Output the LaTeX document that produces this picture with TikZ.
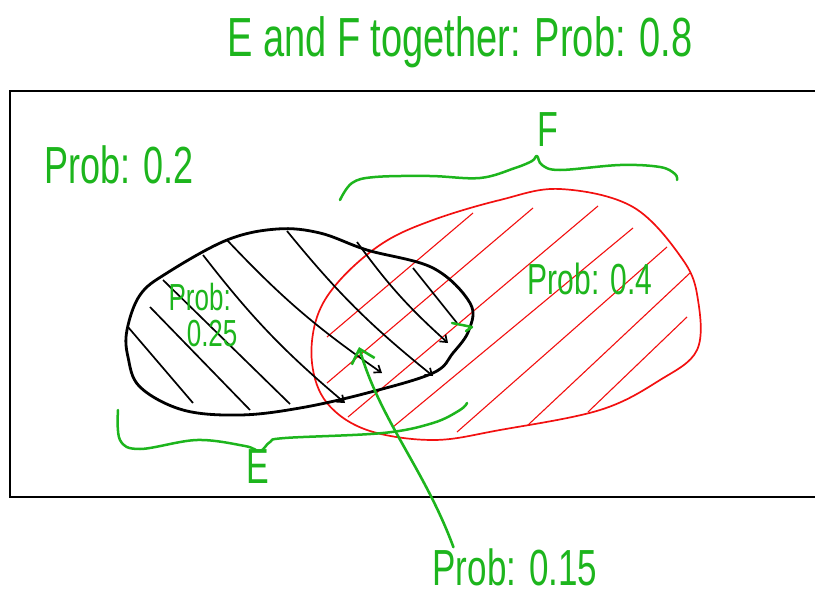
\documentclass[tikz,border=0pt]{standalone}
\usepackage{fontspec}
\setmainfont{Liberation Sans}
\usetikzlibrary{arrows.meta}
\definecolor{penGreen}{HTML}{1DB51D}
\definecolor{penRed}{HTML}{F21010}
\newcommand{\tallpen}[1]{\scalebox{1}[1.45]{#1}}
\tikzset{
  frameline/.style = {line width=2pt, black},
  setE/.style      = {line width=2.8pt, black},
  setF/.style      = {line width=1.7pt, penRed},
  hatchE/.style    = {line width=1.7pt, black},
  hatchEtip/.style = {hatchE, -{Straight Barb[length=6pt, width=9pt]}},
  hatchF/.style    = {line width=1.1pt, penRed},
  penbrace/.style  = {line width=2.5pt, penGreen, line cap=round, line join=round},
  pointer/.style   = {line width=2.6pt, penGreen, line cap=round,
                      -{Straight Barb[length=13pt, width=24pt]}},
  lbl/.style       = {penGreen, inner sep=1pt, font=\fontsize{#1}{#1}\selectfont},
  lbl/.default     = 32,
}

\begin{document}
\begin{tikzpicture}[x=1pt,y=-1pt]
  \useasboundingbox (0,0) rectangle (815,600);
  \draw[frameline] (815,91) -- (10,91) -- (10,497) -- (815,497);
  \foreach \xa/\ya/\xb/\yb in {327/337/473/213, 327/383/533/208, 348/417/598/206,
                               393/427/633/228, 457/432/667/247, 528/425/690/273,
                               588/412/687/317}
    \draw[hatchF] (\xa,\ya) -- (\xb,\yb);
  \draw[setF] plot[smooth cycle, tension=0.6] coordinates {(560,189) (633,207) (683,260)
    (698,300) (697,350) (660,380) (600,410) (500,430) (433,440) (367,430) (327,403)
    (312,363) (317,317) (340,280) (383,243) (433,220) (500,200)};
  \draw[setE] plot[smooth cycle, tension=0.6] coordinates {(127,330) (140,295) (167,273)
    (227,240) (277,229) (320,233) (367,250) (433,268) (470,303) (469,330) (453,353)
    (433,373) (367,393) (300,408) (240,415) (183,410) (140,387) (128,357)};
  \foreach \xa/\ya/\xb/\yb in {128/327/193/403, 150/307/250/410, 163/280/290/404,
                               413/268/457/323}
    \draw[hatchE] (\xa,\ya) -- (\xb,\yb);
  \foreach \xa/\ya/\xb/\yb in {203/255/345/403, 227/240/382/373, 287/231/433/376,
                               357/242/448/343}
    \draw[hatchEtip] (\xa,\ya) to[bend right=6] (\xb,\yb);
  \draw[penbrace] (452,323) -- (472,327) -- (466,331);
  \draw[penbrace] plot[smooth, tension=0.6] coordinates {(340,200) (352,183) (375,177)
    (430,176) (480,178) (515,168) (532,161) (537,156) (542,165) (560,170) (620,165)
    (660,167) (675,174) (677,180)};
  \draw[penbrace] plot[smooth, tension=0.6] coordinates {(118,410) (120,440) (140,449)
    (197,440) (245,446) (260,451) (270,442) (285,438) (383,433) (433,423) (460,410)
    (467,403)};

  \node[lbl=38] (title) at (460,42) {\tallpen{E and F together: Prob: 0.8}};
  \node[lbl=36] (pOut) at (119,165) {\tallpen{Prob: 0.2}};
  \node[lbl=34] (labF) at (548,130) {\tallpen{F}};
  \node[lbl=34] (labE) at (258,467) {\tallpen{E}};
  \node[lbl=26, align=left] (pE) at (203,315) {\tallpen{Prob:}\\[8pt]\hspace*{0.7em}\tallpen{0.25}};
  \node[lbl=30] (pF) at (590,279) {\tallpen{Prob: 0.4}};
  \node[lbl=35] (pEF) at (515,567) {\tallpen{Prob: 0.15}};
  \coordinate (both) at (359,347);
  \draw[pointer] (pEF.north west) ++(22,0) .. controls (425,470) and (380,420) .. (both);
\end{tikzpicture}
\end{document}
